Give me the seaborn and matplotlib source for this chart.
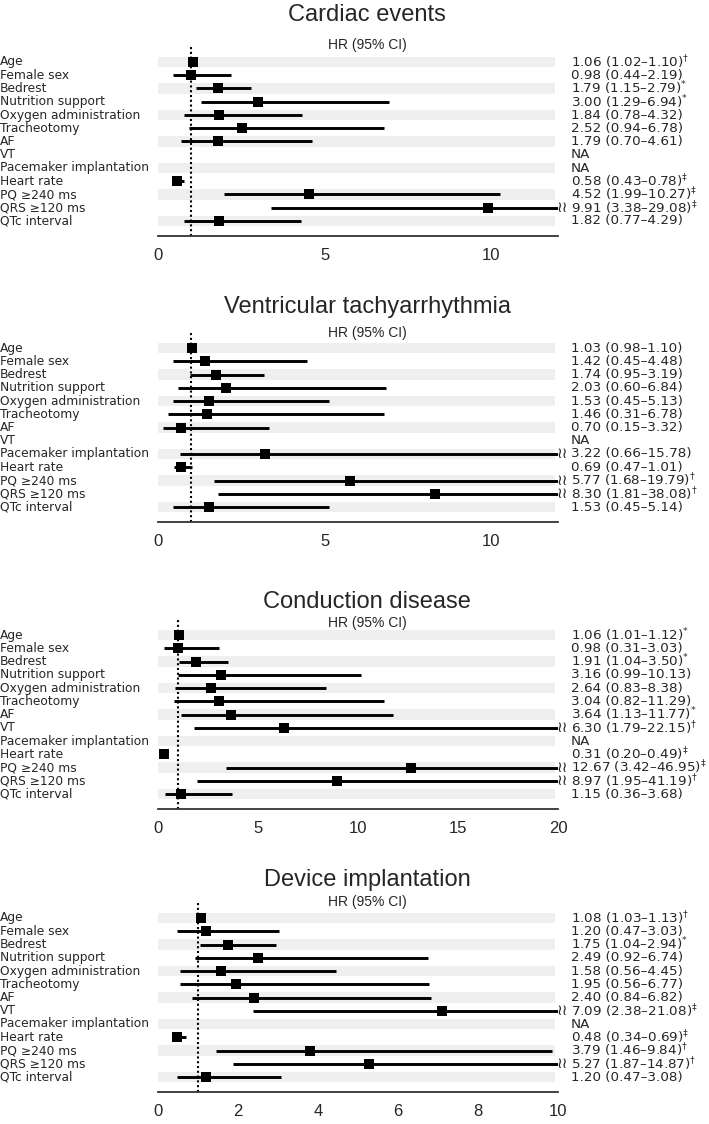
import numpy as np
import pandas as pd
import matplotlib
matplotlib.use("Agg")
import matplotlib.pyplot as plt
import seaborn as sns

# Row labels (same for every panel)
variables = ["Age", "Female sex", "Bedrest", "Nutrition support", "Oxygen administration",
             "Tracheotomy", "AF", "VT", "Pacemaker implantation", "Heart rate",
             "PQ \u2265240 ms", "QRS \u2265120 ms", "QTc interval"]

NA = np.nan

# Cardiac events
hr_cardiac = [1.06, 0.98, 1.79, 3.00, 1.84, 2.52, 1.79, NA, NA, 0.58, 4.52, 9.91, 1.82]
lo_cardiac = [1.02, 0.44, 1.15, 1.29, 0.78, 0.94, 0.70, NA, NA, 0.43, 1.99, 3.38, 0.77]
hi_cardiac = [1.10, 2.19, 2.79, 6.94, 4.32, 6.78, 4.61, NA, NA, 0.78, 10.27, 29.08, 4.29]
sig_cardiac = ["\u2020", "", "*", "*", "", "", "", "", "", "\u2021", "\u2021", "\u2021", ""]

# Ventricular tachyarrhythmia
hr_vt = [1.03, 1.42, 1.74, 2.03, 1.53, 1.46, 0.70, NA, 3.22, 0.69, 5.77, 8.30, 1.53]
lo_vt = [0.98, 0.45, 0.95, 0.60, 0.45, 0.31, 0.15, NA, 0.66, 0.47, 1.68, 1.81, 0.45]
hi_vt = [1.10, 4.48, 3.19, 6.84, 5.13, 6.78, 3.32, NA, 15.78, 1.01, 19.79, 38.08, 5.14]
sig_vt = ["", "", "", "", "", "", "", "", "", "", "\u2020", "\u2020", ""]

# Conduction disease
hr_cond = [1.06, 0.98, 1.91, 3.16, 2.64, 3.04, 3.64, 6.30, NA, 0.31, 12.67, 8.97, 1.15]
lo_cond = [1.01, 0.31, 1.04, 0.99, 0.83, 0.82, 1.13, 1.79, NA, 0.20, 3.42, 1.95, 0.36]
hi_cond = [1.12, 3.03, 3.50, 10.13, 8.38, 11.29, 11.77, 22.15, NA, 0.49, 46.95, 41.19, 3.68]
sig_cond = ["*", "", "*", "", "", "", "*", "\u2020", "", "\u2021", "\u2021", "\u2020", ""]

# Device implantation
hr_dev = [1.08, 1.20, 1.75, 2.49, 1.58, 1.95, 2.40, 7.09, NA, 0.48, 3.79, 5.27, 1.20]
lo_dev = [1.03, 0.47, 1.04, 0.92, 0.56, 0.56, 0.84, 2.38, NA, 0.34, 1.46, 1.87, 0.47]
hi_dev = [1.13, 3.03, 2.94, 6.74, 4.45, 6.77, 6.82, 21.08, NA, 0.69, 9.84, 14.87, 3.08]
sig_dev = ["\u2020", "", "*", "", "", "", "", "\u2021", "", "\u2021", "\u2020", "\u2020", ""]

titles = ["Cardiac events", "Ventricular tachyarrhythmia", "Conduction disease", "Device implantation"]
x_max = [12, 12, 20, 10]
x_ticks = [[0, 5, 10], [0, 5, 10], [0, 5, 10, 15, 20], [0, 2, 4, 6, 8, 10]]

panels = [(hr_cardiac, lo_cardiac, hi_cardiac, sig_cardiac),
          (hr_vt, lo_vt, hi_vt, sig_vt),
          (hr_cond, lo_cond, hi_cond, sig_cond),
          (hr_dev, lo_dev, hi_dev, sig_dev)]

sns.set_style("white")
plt.rcParams["font.family"] = ["Liberation Sans", "DejaVu Sans"]
plt.rcParams["mathtext.fontset"] = "dejavusans"

W, H = 709, 1124
fig = plt.figure(figsize=(W / 100, H / 100), dpi=100)

# pixel layout of each panel
axis_y = [236, 522, 809, 1092]
title_y = [15, 307, 602, 880]
hr_y = [45, 333, 623, 902]
ax_h = 188.6
ax_left, ax_w = 158, 400

for k, (hr, lo, hi, sig) in enumerate(panels):
    ax = fig.add_axes([ax_left / W, 1 - axis_y[k] / H, ax_w / W, ax_h / H])
    rows = np.arange(len(variables))
    df = pd.DataFrame({"var": variables, "row": rows, "hr": hr, "lo": lo, "hi": hi, "sig": sig})
    xm = x_max[k]

    # alternating gray bands
    for r in rows[::2]:
        ax.axhspan(r - 0.38, r + 0.38, xmin=0, xmax=0.9925, color="#efefef", lw=0, zorder=0)

    ax.axvline(1, color="black", ls=(0, (1, 1.3)), lw=1.5, zorder=1)

    d = df.dropna()
    ax.hlines(d["row"], d["lo"], d["hi"], color="black", lw=2.1, zorder=2)
    sns.scatterplot(data=d, x="hr", y="row", marker="s", s=48, color="black",
                    linewidth=0, ax=ax, zorder=3, legend=False)

    ytr = ax.get_yaxis_transform()
    for _, row in df.iterrows():
        ax.text(-ax_left / ax_w, row["row"], row["var"], transform=ytr, ha="left",
                va="center", fontsize=8.8, family="DejaVu Sans", clip_on=False)
        if np.isnan(row["hr"]):
            lab = "NA"
        else:
            lab = f"{row['hr']:.2f} ({row['lo']:.2f}\u2013{row['hi']:.2f})"
            if row["sig"]:
                lab += "$^{" + row["sig"] + "}$"
        ax.text((571 - ax_left) / ax_w, row["row"], lab, transform=ytr, ha="left",
                va="center", fontsize=9.7, family="DejaVu Sans", clip_on=False)
        if not np.isnan(row["hi"]) and row["hi"] > xm:
            ax.text(0.997, row["row"], "\u2240\u2240", transform=ytr, ha="left",
                    va="center", fontsize=11, family="DejaVu Sans", clip_on=False)

    ax.set_xlim(0, xm)
    ax.set_ylim(12 + 15 / 13.25, -14.6 / 13.25)
    ax.set_xticks(x_ticks[k])
    ax.set_yticks([])
    ax.set_xlabel("")
    ax.set_ylabel("")
    ax.tick_params(axis="x", length=0, pad=8.5, labelsize=12)
    for s in ["left", "right", "top"]:
        ax.spines[s].set_visible(False)
    ax.spines["bottom"].set_color("#333333")
    ax.spines["bottom"].set_linewidth(1.3)
    ax.set_facecolor("none")

    fig.text(367 / W, 1 - title_y[k] / H, titles[k], ha="center", va="center", fontsize=17)
    fig.text(367 / W, 1 - hr_y[k] / H, "HR (95% CI)", ha="center", va="center", fontsize=10)

fig.savefig("out.png", dpi=100)
